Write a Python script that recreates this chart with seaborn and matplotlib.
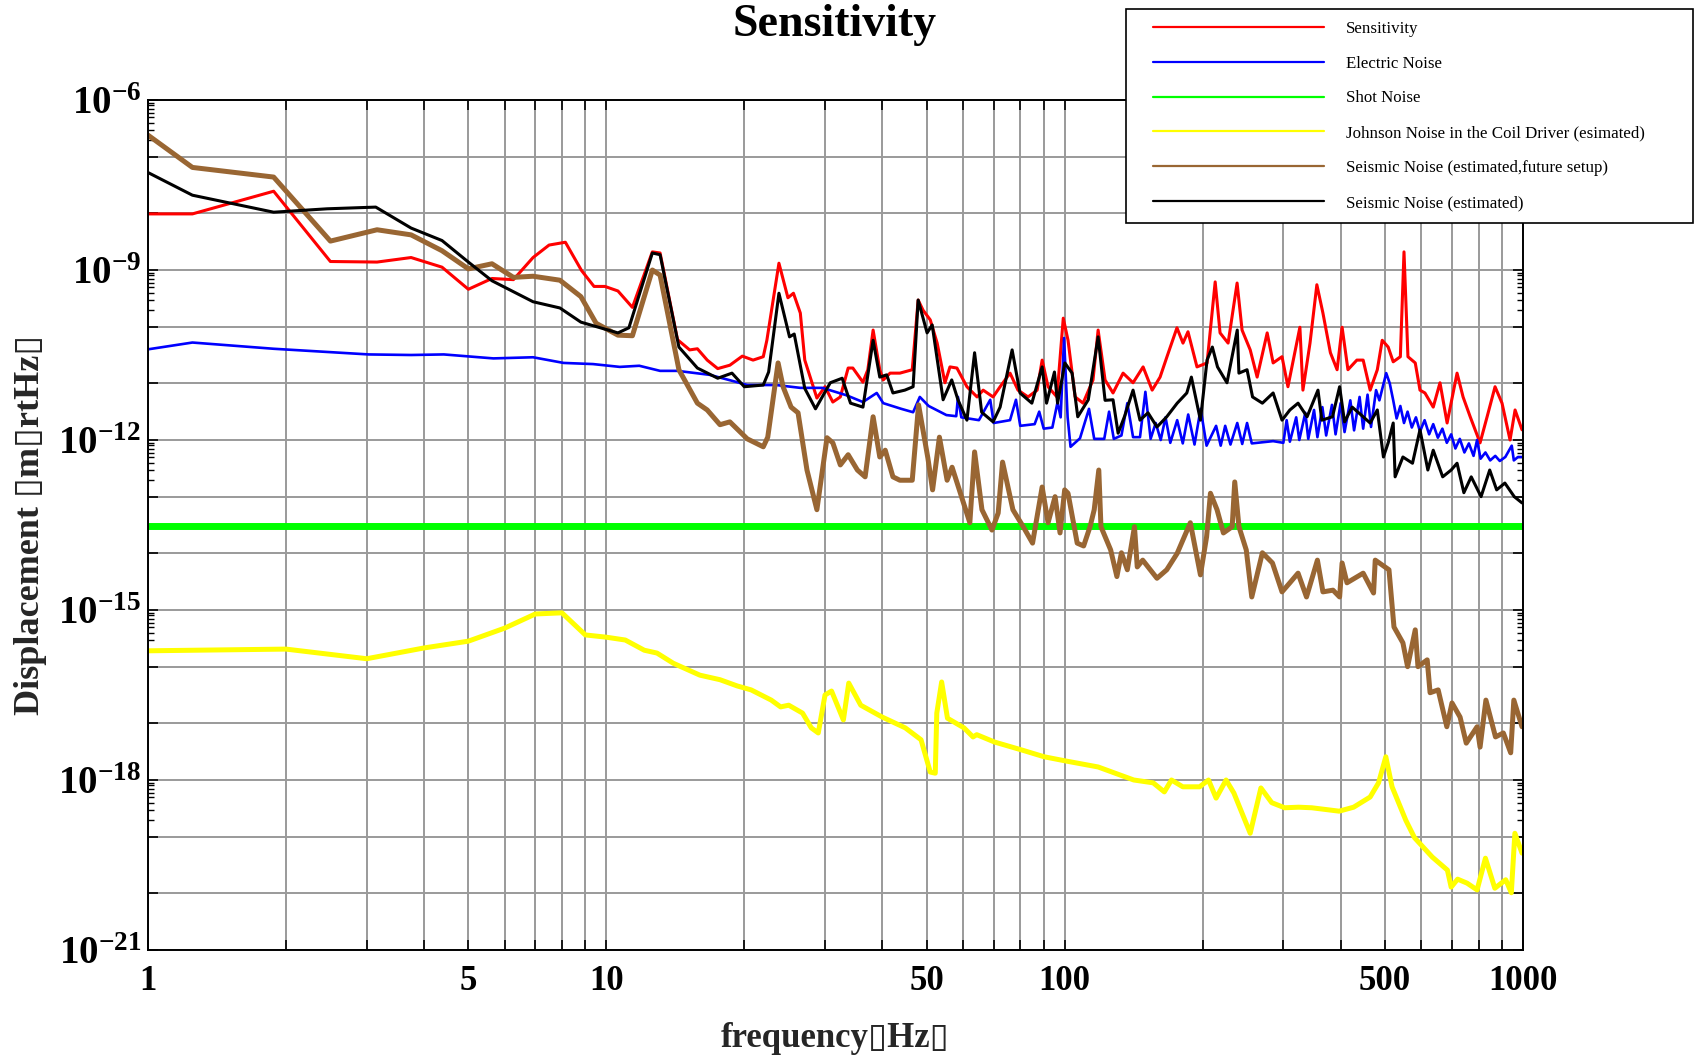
import numpy as np
import pandas as pd
import matplotlib
matplotlib.use("Agg")
import matplotlib.pyplot as plt
import matplotlib.ticker as mticker
from matplotlib.lines import Line2D
from matplotlib.legend_handler import HandlerLine2D
import seaborn as sns

# frequency [Hz] and log10 of displacement [m/rtHz]
sens_freq = [1.0, 1.25, 1.88, 2.5, 3.16, 3.75, 4.38, 5.0, 5.63, 6.27, 6.92, 7.5, 8.14, 8.83, 9.4, 9.93,
             10.6, 11.4, 12.6, 13.1, 14.3, 15.2, 15.8, 16.6, 17.5, 18.6, 19.8, 20.9, 22.0, 22.4, 23.8,
             24.9, 25.6, 26.5, 27.1, 28.8, 30.0, 31.2, 32.4, 33.7, 34.5, 36.3, 37.2, 38.2, 39.5, 40.2,
             41.6, 43.7, 46.5, 47.9, 49.1, 50.9, 52.7, 54.8, 56.2, 58.2, 61.2, 64.4, 66.4, 69.8, 72.3,
             76.0, 79.1, 83.2, 87.1, 89.3, 92.0, 96.2, 99.3, 101.7, 105.4, 109.7, 115.3, 118.3, 122.5,
             127.5, 134.1, 141.0, 148.3, 155.2, 161.5, 167.2, 175.8, 181.2, 185.8, 194.4, 204.5, 213,
             218.3, 227.3, 237.8, 243.8, 254, 263, 276.6, 285, 298, 307, 326, 331, 343, 355, 366, 380,
             393, 403, 415, 434, 448, 464, 481, 493, 508, 521, 540, 550, 561, 582, 596, 611, 637, 659,
             683, 718, 740, 767, 806, 835, 869, 900, 937, 961, 995]
sens_log = [-8.01, -8.01, -7.61, -8.85, -8.86, -8.78, -8.95, -9.34, -9.15, -9.17, -8.78, -8.56, -8.51,
            -9.01, -9.29, -9.29, -9.37, -9.66, -8.68, -8.70, -10.23, -10.41, -10.39, -10.59, -10.74,
            -10.68, -10.52, -10.59, -10.53, -10.24, -8.88, -9.49, -9.41, -9.76, -10.59, -11.26, -11.06,
            -11.33, -11.24, -10.73, -10.73, -10.98, -10.76, -10.06, -10.76, -10.94, -10.82, -10.82,
            -10.76, -9.53, -9.71, -9.88, -10.29, -10.99, -10.71, -10.73, -11.06, -11.24, -11.12,
            -11.24, -11.06, -10.82, -11.12, -11.24, -11.12, -10.59, -11.06, -11.24, -9.85, -10.24,
            -11.24, -11.35, -10.94, -10.06, -10.94, -11.17, -10.82, -10.99, -10.71, -11.12, -10.89,
            -10.53, -10.02, -10.29, -10.09, -10.71, -10.64, -9.21, -10.11, -10.29, -9.23, -10.06,
            -10.41, -10.89, -10.11, -10.64, -10.53, -11.06, -10.01, -11.12, -10.29, -9.26, -9.76,
            -10.46, -10.76, -10.01, -10.76, -10.59, -10.59, -11.12, -10.76, -10.24, -10.36, -10.62,
            -10.53, -8.68, -10.53, -10.64, -11.12, -11.17, -11.42, -10.99, -11.70, -10.82, -11.24,
            -11.59, -12.05, -11.59, -11.06, -11.35, -12.00, -11.47, -11.82]

elec_freq = [1.0, 1.25, 1.88, 3.03, 3.75, 4.42, 5.67, 6.92, 8.07, 9.35, 10.7, 11.8, 13.1, 14.3, 16.8,
             18.9, 20.3, 23.5, 26.5, 29.6, 33.4, 36.3, 38.9, 40.2, 44, 46.7, 48.3, 50.5, 55.2, 58.0,
             58.5, 59.5, 65, 68.8, 70, 76, 78.3, 80, 86, 88, 90, 94, 96.5, 98, 99.7, 101.5, 103, 108,
             113, 116, 122, 125, 128, 133, 137, 141, 146, 150, 154, 158, 162, 166, 170, 176, 181, 186,
             192, 198, 204, 214, 219, 224, 230, 238, 244, 250, 256, 270, 285, 300, 305, 310, 320, 325,
             335, 340, 350, 356, 365, 372, 383, 390, 400, 408, 420, 428, 440, 448, 458, 466, 478, 486,
             503, 512, 521, 530, 540, 550, 560, 572, 584, 596, 610, 624, 637, 652, 667, 682, 697, 712,
             728, 745, 762, 780, 794, 808, 828, 848, 870, 890, 915, 945, 955, 975, 995]
elec_log = [-10.40, -10.28, -10.39, -10.49, -10.50, -10.49, -10.56, -10.54, -10.64, -10.66, -10.71,
            -10.69, -10.78, -10.78, -10.85, -10.96, -11.03, -11.03, -11.08, -11.08, -11.21, -11.33,
            -11.17, -11.35, -11.45, -11.51, -11.24, -11.40, -11.56, -11.58, -11.24, -11.60, -11.65,
            -11.29, -11.70, -11.65, -11.29, -11.75, -11.72, -11.50, -11.80, -11.78, -11.33, -11.60,
            -10.20, -11.60, -12.12, -11.97, -11.45, -11.98, -11.98, -11.50, -11.98, -11.92, -11.35,
            -11.95, -11.95, -11.15, -11.98, -11.70, -12.00, -11.60, -12.05, -11.65, -12.06, -11.55,
            -12.08, -11.45, -12.10, -11.75, -12.10, -11.75, -12.08, -11.70, -12.07, -11.70, -12.06,
            -12.04, -12.02, -12.05, -11.65, -12.03, -11.60, -12.00, -11.52, -11.98, -11.47, -11.95,
            -11.42, -11.92, -11.38, -11.90, -11.35, -11.86, -11.30, -11.83, -11.24, -11.80, -11.20,
            -11.77, -11.12, -11.30, -10.82, -11.00, -11.30, -11.62, -11.40, -11.70, -11.50, -11.78,
            -11.60, -11.85, -11.65, -11.90, -11.72, -11.96, -11.80, -12.05, -11.90, -12.15, -11.98,
            -12.22, -12.06, -12.28, -12.00, -12.33, -12.22, -12.36, -12.28, -12.37, -12.30, -12.10,
            -12.36, -12.30, -12.30]

shot_freq = [1.0, 1000.0]
shot_log = [-13.52, -13.52]

johnson_freq = [1.0, 2.0, 3.0, 4.0, 5.0, 6.0, 7.0, 8.0, 9.0, 10.0, 11.0, 12.1, 12.9, 14.0, 16.0, 17.7,
                19.3, 20.7, 22.9, 24.0, 25.0, 26.8, 28.0, 29.0, 30.0, 31.0, 32.9, 33.8, 35.9, 40, 44.9,
                48.6, 50.9, 52.2, 52.6, 53.9, 55.5, 60.3, 63.1, 64.3, 70.3, 80.6, 90.2, 99.9, 118.3,
                141.5, 156, 165, 171, 181, 197, 206, 214, 225, 234, 254, 268, 283, 302, 324, 346, 397,
                427, 464, 484, 502, 518, 555, 580, 634, 684, 697, 720, 755, 794, 828, 868, 917, 943,
                960, 995]
johnson_log = [-15.72, -15.69, -15.86, -15.67, -15.55, -15.32, -15.07, -15.05, -15.44, -15.48, -15.53,
               -15.71, -15.76, -15.94, -16.15, -16.23, -16.34, -16.41, -16.59, -16.71, -16.68, -16.82,
               -17.08, -17.17, -16.50, -16.43, -16.94, -16.29, -16.68, -16.89, -17.08, -17.29, -17.86,
               -17.88, -16.82, -16.27, -16.91, -17.08, -17.24, -17.20, -17.33, -17.47, -17.59, -17.66,
               -17.77, -18.00, -18.05, -18.21, -18.00, -18.12, -18.12, -18.00, -18.32, -18.00, -18.23,
               -18.94, -18.14, -18.40, -18.49, -18.48, -18.49, -18.55, -18.48, -18.30, -18.05, -17.59,
               -18.12, -18.71, -19.02, -19.36, -19.59, -19.89, -19.75, -19.82, -19.94, -19.38, -19.91,
               -19.76, -19.99, -18.94, -19.29]

seis_future_freq = [1.0, 1.25, 1.88, 2.5, 3.16, 3.75, 4.38, 5.0, 5.63, 6.27, 6.92, 7.92, 8.8, 9.5, 10.6,
                    11.4, 12.6, 13.1, 14.4, 15.8, 16.6, 17.7, 18.6, 20.3, 22.0, 22.5, 23.7, 24.3, 25.3,
                    26.2, 27.4, 28.8, 30.3, 31.2, 32.4, 33.7, 35.3, 36.7, 38.2, 39.5, 40.6, 42.2, 43.7,
                    46.5, 48.0, 50.3, 51.5, 53.3, 55.4, 56.8, 62.1, 63.6, 66.0, 69.4, 71.6, 73.2, 77.1,
                    81.2, 85.1, 89.3, 92.0, 95.3, 97.7, 100, 101.7, 106.5, 110, 113.6, 116, 118.7, 120,
                    126, 130, 133, 137, 142, 144, 148, 159, 167, 176, 188, 197.8, 204, 208, 215, 222,
                    232, 235, 240, 249, 256, 270, 284, 298, 310, 323, 337, 356, 366, 385, 398, 403, 413,
                    448, 472, 476, 510, 523, 547, 560, 582, 590, 618, 627, 653, 682, 700, 729, 752, 794,
                    806, 830, 871, 906, 940, 955, 995]
seis_future_log = [-6.62, -7.19, -7.36, -8.49, -8.29, -8.38, -8.66, -8.98, -8.89, -9.13, -9.11, -9.18,
                   -9.47, -9.94, -10.15, -10.16, -9.00, -9.09, -10.76, -11.35, -11.47, -11.73, -11.68,
                   -11.98, -12.12, -11.95, -10.64, -11.06, -11.42, -11.52, -12.53, -13.23, -11.96,
                   -12.05, -12.44, -12.26, -12.53, -12.65, -11.59, -12.30, -12.18, -12.65, -12.71,
                   -12.71, -11.38, -12.32, -12.88, -11.95, -12.71, -12.48, -13.46, -12.21, -13.23,
                   -13.59, -13.29, -12.39, -13.23, -13.53, -13.82, -12.83, -13.46, -13.00, -13.64,
                   -12.88, -12.94, -13.82, -13.87, -13.53, -13.23, -12.53, -13.53, -13.94, -14.41,
                   -13.99, -14.29, -13.53, -14.24, -14.12, -14.44, -14.29, -14.00, -13.46, -14.38,
                   -13.71, -12.94, -13.23, -13.64, -13.53, -12.74, -13.53, -13.94, -14.77, -13.99,
                   -14.17, -14.68, -14.52, -14.35, -14.77, -14.12, -14.68, -14.65, -14.77, -14.17,
                   -14.52, -14.35, -14.70, -14.12, -14.29, -15.30, -15.58, -16.00, -15.35, -16.00,
                   -15.88, -16.46, -16.41, -17.06, -16.64, -16.89, -17.35, -17.06, -17.42, -16.59,
                   -17.24, -17.17, -17.52, -16.59, -17.06]

seis_freq = [1.0, 1.25, 1.88, 2.46, 3.14, 3.75, 4.38, 5.0, 5.63, 6.92, 7.92, 8.8, 10.6, 11.2, 12.6, 13.1,
             14.4, 15.8, 17.5, 18.8, 20.0, 22.0, 22.6, 23.8, 25.1, 25.7, 27.1, 28.6, 30.8, 32.7, 34.1,
             36.3, 38.2, 39.5, 40.9, 42.2, 44.8, 46.7, 47.9, 50.1, 51.4, 54.3, 56.7, 58.5, 61.2, 63.6,
             65.9, 69.8, 72.3, 76.8, 79.9, 84.8, 89.3, 91.3, 95.0, 96.5, 100.1, 103.8, 106.8, 112.6,
             118.3, 122.5, 127.5, 130.8, 135, 141, 146, 152, 159, 167, 176, 184.7, 189, 197.8, 204.5,
             210, 215.5, 226, 238, 240, 250, 257, 270, 285, 298, 310, 323, 338, 357, 364, 384, 398,
             408, 424, 448, 464, 481, 496, 508, 521, 526, 547, 574, 596, 620, 637, 668, 697, 718, 743,
             771, 810, 846, 876, 913, 957, 995]
seis_log = [-7.28, -7.68, -7.98, -7.92, -7.89, -8.26, -8.48, -8.86, -9.19, -9.56, -9.67, -9.92, -10.11,
            -10.02, -8.70, -8.73, -10.36, -10.73, -10.91, -10.82, -11.06, -11.03, -10.80, -9.41,
            -10.18, -10.13, -11.09, -11.45, -10.99, -10.91, -11.35, -11.42, -10.24, -10.89, -10.85,
            -11.17, -11.12, -11.06, -9.53, -10.11, -9.97, -11.29, -10.94, -11.29, -11.65, -10.46,
            -11.51, -11.68, -11.42, -10.41, -11.17, -11.35, -10.71, -11.35, -10.80, -11.35, -10.64,
            -10.82, -11.59, -11.29, -10.18, -11.30, -11.29, -11.88, -11.59, -11.12, -11.65, -11.52,
            -11.77, -11.59, -11.35, -11.17, -10.89, -11.65, -10.59, -10.36, -10.71, -10.99, -10.06,
            -10.82, -10.76, -11.24, -11.35, -11.17, -11.65, -11.47, -11.35, -11.59, -11.12, -11.65,
            -11.59, -11.06, -11.68, -11.42, -11.59, -11.70, -11.47, -12.30, -12.05, -11.70, -12.65,
            -12.30, -12.41, -11.82, -12.53, -12.18, -12.65, -12.53, -12.41, -12.93, -12.65, -13.00,
            -12.53, -12.88, -12.76, -13.00, -13.11]

names = ["Sensitivity", "Electric Noise", "Shot Noise", "Johnson Noise in the Coil Driver (esimated)",
         "Seismic Noise (estimated,future setup)", "Seismic Noise (estimated)"]
colors = ["#ff0000", "#0000ff", "#00ff00", "#ffff00", "#996633", "#000000"]
widths = [2.2, 1.9, 5.0, 3.6, 3.6, 2.2]

sns.set_theme(style="white")
plt.rcParams['font.family'] = ['Liberation Serif', 'DejaVu Sans']
plt.rcParams['font.weight'] = 'bold'
plt.rcParams['text.color'] = 'black'
plt.rcParams['xtick.color'] = 'black'
plt.rcParams['ytick.color'] = 'black'
plt.rcParams['mathtext.fontset'] = 'custom'
plt.rcParams['mathtext.rm'] = 'Liberation Serif:bold'
plt.rcParams['mathtext.bf'] = 'Liberation Serif:bold'
plt.rcParams['mathtext.it'] = 'Liberation Serif:bold:italic'
plt.rcParams['mathtext.default'] = 'rm'

fig = plt.figure(figsize=(16.96, 10.55), dpi=100)
ax = fig.add_axes([148 / 1696, 1 - 950 / 1055, 1375 / 1696, 850 / 1055])

all_series = [(sens_freq, sens_log), (elec_freq, elec_log), (shot_freq, shot_log),
              (johnson_freq, johnson_log), (seis_future_freq, seis_future_log), (seis_freq, seis_log)]
for (f, lg), name, col, lw in zip(all_series, names, colors, widths):
    df = pd.DataFrame({"freq": f, "disp": 10.0 ** np.array(lg)})
    sns.lineplot(data=df, x="freq", y="disp", color=col, lw=lw, ax=ax,
                 estimator=None, sort=False, legend=False)

ax.set_xscale("log")
ax.set_yscale("log")
ax.set_xlim(1, 1000)
ax.set_ylim(1e-21, 1e-6)

# x grid at 1..9 x 10^k, labels only at a few
xt = [m * 10 ** k for k in range(3) for m in range(1, 10)] + [1000]
x_labeled = [1, 5, 10, 50, 100, 500, 1000]
ax.xaxis.set_major_locator(mticker.FixedLocator(xt))
ax.xaxis.set_major_formatter(mticker.FuncFormatter(
    lambda v, p: "%d" % round(v) if round(v) in x_labeled else ""))
ax.xaxis.set_minor_locator(mticker.NullLocator())

yt = [10.0 ** e for e in range(-21, -5)]
ax.yaxis.set_major_locator(mticker.FixedLocator(yt))
ax.yaxis.set_major_formatter(mticker.FuncFormatter(
    lambda v, p: r"$10^{%d}$" % round(np.log10(v)) if round(np.log10(v)) % 3 == 0 else ""))
ymin = [m * 10.0 ** (e - 1) for e in (-6, -9, -12, -15, -18) for m in range(2, 10)]
ax.yaxis.set_minor_locator(mticker.FixedLocator(ymin))
ax.yaxis.set_minor_formatter(mticker.NullFormatter())

ax.grid(True, which="major", color="#9a9a9a", lw=1.4)
ax.set_axisbelow(True)
ax.tick_params(which="both", direction="in", top=True, right=True, bottom=True, left=True)
ax.tick_params(which="major", length=7, width=1.2)
ax.tick_params(which="minor", length=4, width=1.0)
ax.tick_params(axis="x", labelsize=25, pad=11)
ax.tick_params(axis="y", labelsize=28, pad=5)
for s in ax.spines.values():
    s.set_color("black")
    s.set_linewidth(1.4)

ax.set_xlabel("frequency\u25afHz\u25af", fontsize=25, fontweight="bold")
ax.xaxis.set_label_coords(0.5, -0.085)
ax.set_ylabel("Displacement \u25afm\u25afrtHz\u25af", fontsize=26, fontweight="bold")
ax.yaxis.set_label_coords(-0.0735, 0.5)

fig.text(835 / 1696, 1 - 36 / 1055, "Sensitivity", ha="center", va="baseline",
         fontsize=33, fontweight="bold")

handles = [Line2D([], [], color=c, lw=1.6) for c in colors]
leg = fig.legend(handles, names, loc="upper left",
                 bbox_to_anchor=(1126 / 1696, 1 - 9 / 1055 - 0.2, 567 / 1696, 0.2),
                 mode="expand", borderaxespad=0, borderpad=0.7, labelspacing=1.11,
                 handlelength=11.0, handletextpad=1.3, fancybox=False, framealpha=1,
                 edgecolor="black",
                 handler_map={Line2D: HandlerLine2D(xpad=0.9)},
                 prop={"family": "Liberation Serif", "weight": "normal", "size": 12.2})
leg.get_frame().set_linewidth(1.2)

plt.savefig("out.png", dpi=100)
